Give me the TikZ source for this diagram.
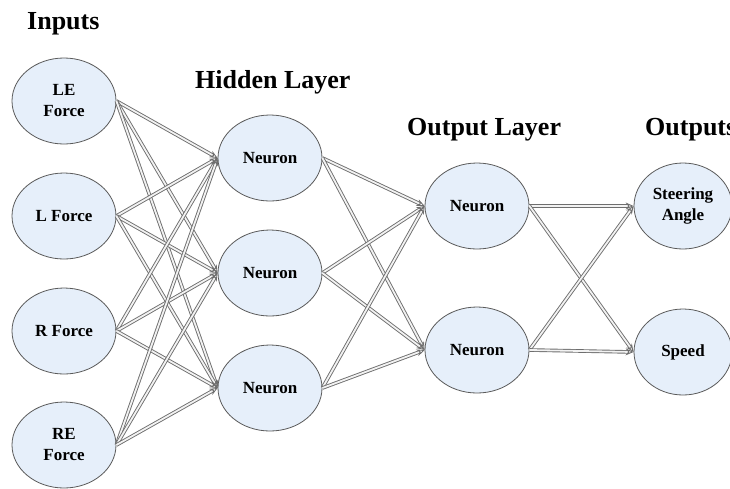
\documentclass[tikz,border=0pt]{standalone}
\usepackage{fontspec}
\setmainfont{Liberation Serif}
\usetikzlibrary{shapes.geometric,arrows.meta}

\definecolor{cellfill}{HTML}{E6EFFA}
\definecolor{celledge}{HTML}{5A5A5A}
\definecolor{wire}{HTML}{6E6E6E}
\definecolor{wirecore}{HTML}{F2F2F2}

\begin{document}
\begin{tikzpicture}[x=1pt,y=-1pt,
  unit/.style={ellipse, draw=celledge, line width=0.8pt, fill=cellfill,
    minimum width=104pt, minimum height=86pt, inner sep=0pt, align=center,
    font=\fontsize{17}{21}\selectfont\bfseries},
  heading/.style={anchor=base west, inner sep=0pt,
    font=\fontsize{26}{30}\selectfont\bfseries},
  link/.style={draw=wire, line width=0.9pt, double=wirecore, double distance=1.8pt,
    -{Stealth[open, length=8pt, width=7pt]}}]

\path[use as bounding box] (0,0) rectangle (730,488);
\clip (0,0) rectangle (730,488);

% column headings
\node[heading] (hIn)  at (27,29)   {Inputs};
\node[heading] (hHid) at (195,88)  {Hidden Layer};
\node[heading] (hOut) at (407,135) {Output Layer};
\node[heading] (hRes) at (645,135) {Outputs};

% input units
\node[unit] (i1) at (64,101) {LE\\Force};
\node[unit] (i2) at (64,216) {L Force};
\node[unit] (i3) at (64,331) {R Force};
\node[unit] (i4) at (64,445) {RE\\Force};

% hidden units
\node[unit] (h1) at (270,158) {Neuron};
\node[unit] (h2) at (270,273) {Neuron};
\node[unit] (h3) at (270,388) {Neuron};

% output-layer units
\node[unit] (o1) at (477,206) {Neuron};
\node[unit] (o2) at (477,350) {Neuron};

% network outputs
\node[unit, minimum width=98pt] (r1) at (683,206) {Steering\\Angle};
\node[unit, minimum width=98pt] (r2) at (683,352) {Speed};

% connections
\foreach \s in {i1,i2,i3,i4}
  \foreach \t in {h1,h2,h3}
    \draw[link] (\s.east) -- (\t.west);
\foreach \s in {h1,h2,h3}
  \foreach \t in {o1,o2}
    \draw[link] (\s.east) -- (\t.west);
\foreach \s in {o1,o2}
  \foreach \t in {r1,r2}
    \draw[link] (\s.east) -- (\t.west);
\end{tikzpicture}
\end{document}
